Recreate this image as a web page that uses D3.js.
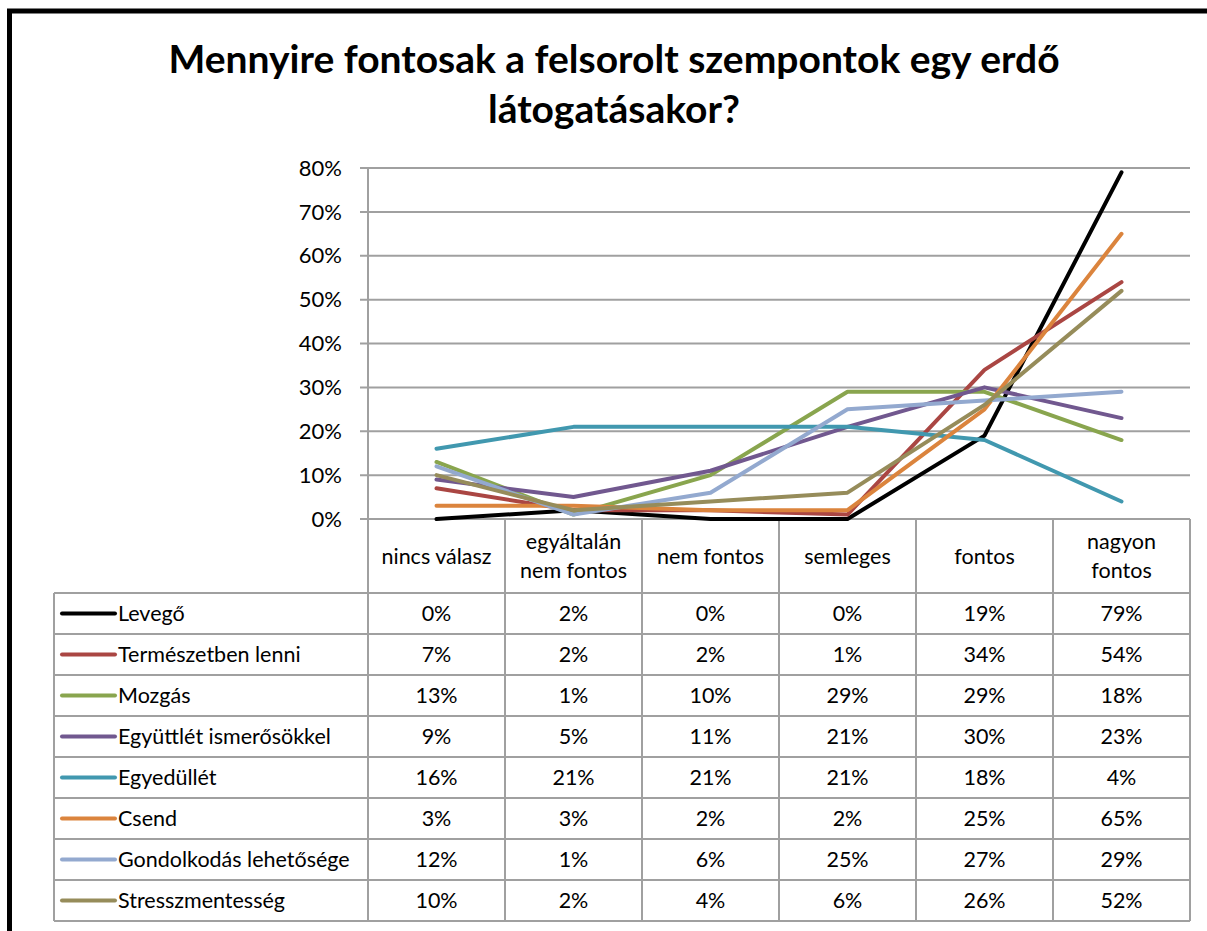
<!DOCTYPE html>
<html>
<head>
<meta charset="utf-8">
<script src="https://cdn.jsdelivr.net/npm/d3@7"></script>
<style>
  body { margin: 0; background: #fff; }
  svg { display: block; font-family: Lato, "Open Sans", sans-serif; }
  .grid line { stroke: #a0a0a0; stroke-width: 2; }
  .tbl line { stroke: #a0a0a0; stroke-width: 2; }
</style>
</head>
<body>
<svg id="chart" width="1207" height="931"></svg>
<script>
const categories = ["nincs válasz", "egyáltalán nem fontos", "nem fontos", "semleges", "fontos", "nagyon fontos"];
const headerLines = [["nincs válasz"], ["egyáltalán", "nem fontos"], ["nem fontos"], ["semleges"], ["fontos"], ["nagyon", "fontos"]];
const seriesNames = ["Levegő", "Természetben lenni", "Mozgás", "Együttlét ismerősökkel", "Egyedüllét", "Csend", "Gondolkodás lehetősége", "Stresszmentesség"];
const levego = [0, 2, 0, 0, 19, 79];
const termeszet = [7, 2, 2, 1, 34, 54];
const mozgas = [13, 1, 10, 29, 29, 18];
const egyuttlet = [9, 5, 11, 21, 30, 23];
const egyedullet = [16, 21, 21, 21, 18, 4];
const csend = [3, 3, 2, 2, 25, 65];
const gondolkodas = [12, 1, 6, 25, 27, 29];
const stressz = [10, 2, 4, 6, 26, 52];
const yTicks = [0, 10, 20, 30, 40, 50, 60, 70, 80];
const colors = ["#000000", "#AA4643", "#89A54E", "#71588F", "#4198AF", "#DB843D", "#93A9CF", "#968C5A"];

const seriesValues = [levego, termeszet, mozgas, egyuttlet, egyedullet, csend, gondolkodas, stressz];
const series = seriesNames.map((name, i) => ({ name, values: seriesValues[i], color: colors[i] }));

const svg = d3.select("#chart");

// outer frame (cut off at right/bottom like the source)
svg.append("path")
  .attr("d", "M9.5,1000 V11 H1300")
  .attr("fill", "none")
  .attr("stroke", "#000")
  .attr("stroke-width", 5);

// title
const title = svg.append("text")
  .attr("text-anchor", "middle")
  .attr("font-weight", "bold")
  .attr("font-size", 39)
  .attr("fill", "#000");
title.append("tspan").attr("x", 614).attr("y", 73).text("Mennyire fontosak a felsorolt szempontok egy erdő");
title.append("tspan").attr("x", 614).attr("y", 123).text("látogatásakor?");

const plotLeft = 368, plotRight = 1190, plotTop = 168, plotBottom = 519;
const tableLeft = 54, rowH = 41, headerBottom = 593;
const fs = 21.5;

const x = d3.scaleBand().domain(categories).range([plotLeft, plotRight]);
const y = d3.scaleLinear().domain([0, 80]).range([plotBottom, plotTop]);

// gridlines
svg.append("g").attr("class", "grid")
  .selectAll("line")
  .data(yTicks)
  .join("line")
  .attr("x1", plotLeft - 8).attr("x2", plotRight)
  .attr("y1", d => y(d)).attr("y2", d => y(d));

// y axis labels
svg.append("g")
  .selectAll("text")
  .data(yTicks)
  .join("text")
  .attr("x", 342)
  .attr("y", d => y(d))
  .attr("dy", "0.35em")
  .attr("text-anchor", "end")
  .attr("font-size", 22)
  .text(d => d + "%");

// table lines
const tbl = svg.append("g").attr("class", "tbl");
const bounds = categories.map(c => x(c)).concat([plotRight]);
tbl.selectAll("line.v")
  .data(bounds)
  .join("line")
  .attr("class", "v")
  .attr("x1", d => d).attr("x2", d => d)
  .attr("y1", (d, i) => i === 0 ? plotTop : plotBottom)
  .attr("y2", headerBottom + rowH * series.length);
tbl.append("line")
  .attr("x1", tableLeft).attr("x2", tableLeft)
  .attr("y1", headerBottom).attr("y2", headerBottom + rowH * series.length);
tbl.selectAll("line.h")
  .data(d3.range(series.length + 1))
  .join("line")
  .attr("class", "h")
  .attr("x1", tableLeft).attr("x2", plotRight)
  .attr("y1", i => headerBottom + i * rowH)
  .attr("y2", i => headerBottom + i * rowH);
tbl.append("line")
  .attr("x1", plotLeft).attr("x2", plotRight)
  .attr("y1", plotBottom).attr("y2", plotBottom);

// header labels
const hdr = svg.append("g")
  .selectAll("text")
  .data(categories)
  .join("text")
  .attr("text-anchor", "middle")
  .attr("font-size", fs)
  .attr("fill", "#000");
hdr.each(function (d, i) {
  const lines = headerLines[i];
  const cx = x(d) + x.bandwidth() / 2;
  const cy = (plotBottom + headerBottom) / 2;
  lines.forEach((t, k) => {
    d3.select(this).append("tspan")
      .attr("x", cx)
      .attr("y", cy + (k - (lines.length - 1) / 2) * 29)
      .attr("dy", "0.35em")
      .text(t);
  });
});

// lines
const line = d3.line()
  .x((d, i) => x(categories[i]) + x.bandwidth() / 2)
  .y(d => y(d));

svg.append("g")
  .selectAll("path")
  .data(series)
  .join("path")
  .attr("d", d => line(d.values))
  .attr("fill", "none")
  .attr("stroke", d => d.color)
  .attr("stroke-width", 4)
  .attr("stroke-linecap", "round")
  .attr("stroke-linejoin", "round");

// table rows
const rows = svg.append("g")
  .selectAll("g")
  .data(series)
  .join("g")
  .attr("transform", (d, i) => `translate(0,${headerBottom + i * rowH + rowH / 2})`);

rows.append("line")
  .attr("x1", 62).attr("x2", 115)
  .attr("stroke", d => d.color)
  .attr("stroke-width", 4)
  .attr("stroke-linecap", "round");

rows.append("text")
  .attr("x", 118)
  .attr("dy", "0.35em")
  .attr("font-size", fs)
  .text(d => d.name);

rows.selectAll("text.val")
  .data(d => d.values)
  .join("text")
  .attr("class", "val")
  .attr("x", (v, i) => x(categories[i]) + x.bandwidth() / 2)
  .attr("dy", "0.35em")
  .attr("text-anchor", "middle")
  .attr("font-size", fs)
  .text(v => v + "%");
</script>
</body>
</html>
